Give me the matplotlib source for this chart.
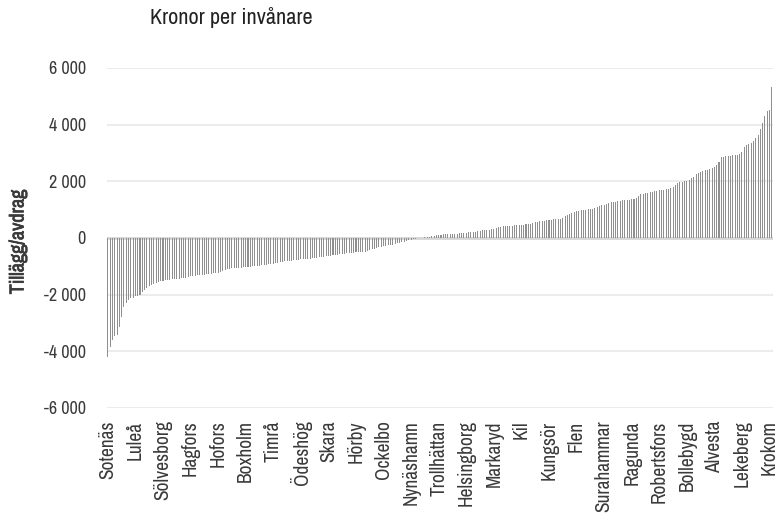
import matplotlib
matplotlib.use("Agg")
import matplotlib.pyplot as plt
from matplotlib import font_manager
import matplotlib.patheffects as pe
from matplotlib.ticker import FuncFormatter
import numpy as np

# pick a narrow font if one is installed
narrow = None
for f in font_manager.fontManager.ttflist:
    if ("Narrow" in f.name or "Condensed" in f.name) and narrow is None:
        narrow = (f.name, "normal")
if narrow is None:
    cond = [f for f in font_manager.fontManager.ttflist
            if f.name == "DejaVu Sans" and str(f.stretch) in ("condensed", "semi-condensed")]
    if cond:
        narrow = ("DejaVu Sans", "condensed")
if narrow is None:
    narrow = ("Roboto", "normal")

plt.rcParams['font.family'] = [narrow[0], 'DejaVu Sans']
plt.rcParams['font.stretch'] = narrow[1]

title = "Kronor per invånare"
y_label = "Tillägg/avdrag"

tick_labels = ["Sotenäs", "Luleå", "Sölvesborg", "Hagfors", "Hofors", "Boxholm",
               "Timrå", "Ödeshög", "Skara", "Hörby", "Ockelbo", "Nynäshamn",
               "Trollhättan", "Helsingborg", "Markaryd", "Kil", "Kungsör", "Flen",
               "Surahammar", "Ragunda", "Robertsfors", "Bollebygd", "Alvesta",
               "Lekeberg", "Krokom"]
label_step = 12

values = [
    -4200, -3850, -3600, -3450, -3420, -3150, -2800, -2450, -2300, -2200,
    -2130, -2100, -2060, -2030, -2000, -1900, -1850, -1780, -1700, -1650,
    -1610, -1580, -1555, -1530, -1510, -1495, -1480, -1470, -1460, -1450,
    -1440, -1430, -1425, -1415, -1400, -1380, -1350, -1340, -1330, -1320,
    -1310, -1300, -1290, -1280, -1270, -1260, -1250, -1240, -1220, -1200,
    -1180, -1130, -1095, -1080, -1070, -1065, -1060, -1050, -1045, -1040,
    -1035, -1025, -1015, -1005, -995, -985, -975, -960, -950, -940,
    -925, -910, -900, -885, -870, -850, -835, -825, -815, -805,
    -795, -785, -775, -760, -750, -745, -740, -735, -728, -722,
    -715, -700, -685, -670, -655, -645, -635, -625, -610, -598,
    -585, -575, -565, -552, -540, -530, -520, -512, -505, -498,
    -490, -484, -478, -455, -430, -400, -375, -350, -325, -305,
    -290, -275, -262, -250, -235, -210, -190, -170, -150, -128,
    -105, -85, -62, -40, -25, -12, -5, 8, 20, 30,
    45, 60, 80, 100, 105, 115, 125, 130, 135, 140,
    145, 150, 152, 160, 170, 180, 190, 198, 205, 212,
    220, 235, 250, 265, 280, 292, 300, 310, 330, 355,
    380, 400, 410, 418, 424, 432, 440, 448, 455, 460,
    465, 470, 480, 495, 510, 530, 550, 570, 589, 600,
    615, 630, 640, 650, 660, 668, 672, 680, 700, 760,
    812, 850, 890, 925, 953, 970, 985, 995, 1005, 1015,
    1024, 1040, 1070, 1100, 1130, 1150, 1165, 1190, 1230, 1260,
    1270, 1285, 1300, 1317, 1330, 1340, 1350, 1355, 1360, 1366,
    1420, 1490, 1543, 1560, 1580, 1600, 1615, 1635, 1650, 1665,
    1680, 1695, 1705, 1718, 1730, 1760, 1800, 1860, 1930, 1960,
    1985, 2005, 2023, 2060, 2110, 2170, 2250, 2300, 2340, 2376,
    2395, 2410, 2425, 2470, 2520, 2577, 2700, 2849, 2870, 2890,
    2905, 2910, 2915, 2920, 2930, 2950, 3050, 3223, 3270, 3310,
    3343, 3420, 3519, 3650, 3850, 4070, 4300, 4483, 4518, 5341,
]
y_ticks = [-6000, -4000, -2000, 0, 2000, 4000, 6000]

W, H = 779, 521
fig = plt.figure(figsize=(W / 100, H / 100), dpi=100)
ax = fig.add_axes([106.7 / W, 1 - 408 / H, (773 - 106.7) / W, (408 - 68) / H])

x = np.arange(len(values))
ax.bar(x, values, width=0.45, color="#8f8f8f", linewidth=0, zorder=3)

ax.set_xlim(-0.5, len(values) - 0.5)
ax.set_ylim(-6000, 6000)
ax.set_yticks(y_ticks)
ax.yaxis.set_major_formatter(FuncFormatter(lambda v, p: f"{int(v):,}".replace(",", " ")))
ax.grid(axis="y", color="#ececec", linewidth=1.5, zorder=0)
ax.axhline(0, color="#d6d6d6", linewidth=2, zorder=2)
for s in ax.spines.values():
    s.set_visible(False)

ax.set_xticks(x[::label_step])
ax.set_xticklabels(tick_labels, rotation=90, ha="center", va="top")
ax.tick_params(axis="x", length=0, pad=9, labelsize=14, labelcolor="#3a3a3a")
ax.tick_params(axis="y", length=0, pad=15, labelsize=13, labelcolor="#3a3a3a")

fig.text(18 / W, 1 - 242 / H, y_label, rotation=90, ha="center", va="center",
         fontsize=14.5, fontweight="bold", color="#3a3a3a",
         path_effects=[pe.withStroke(linewidth=0.5, foreground="#3a3a3a")])
fig.text(150 / W, 1 - 18 / H, title, ha="left", va="center", fontsize=16, color="#222222")

fig.savefig("out.png", dpi=100)
